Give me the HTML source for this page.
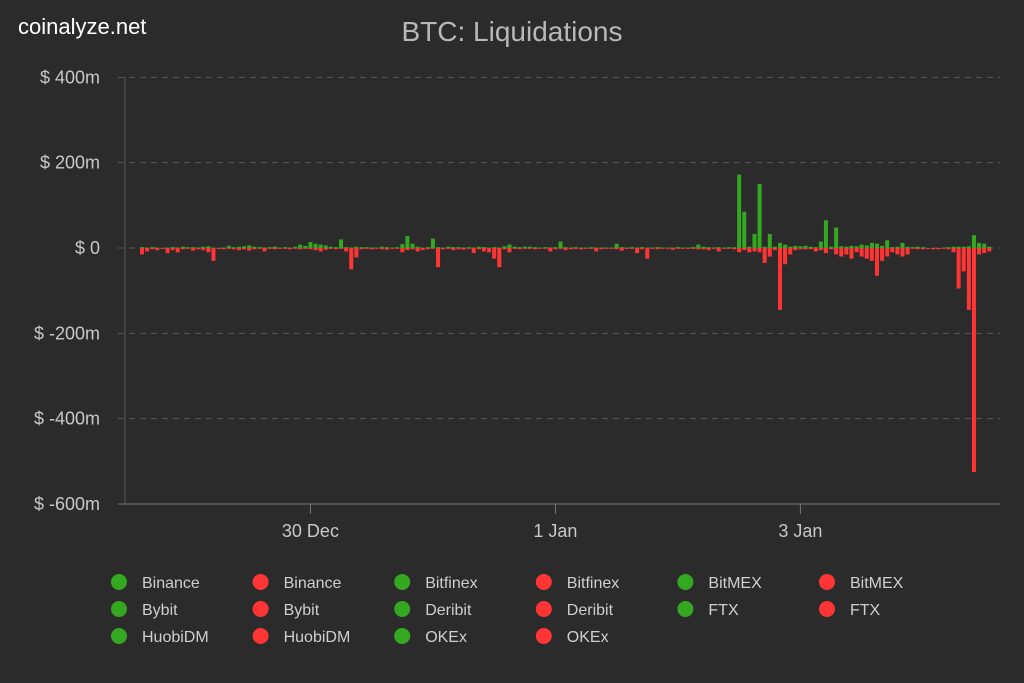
<!DOCTYPE html>
<html><head><meta charset="utf-8"><style>
body{margin:0;background:#2b2b2b;}
svg{display:block;font-family:"Liberation Sans",sans-serif;}
</style></head><body>
<svg id="chart" width="1024" height="683">
<rect width="1024" height="683" fill="#2b2b2b"/>
<text x="18" y="34" font-size="22" fill="#ffffff">coinalyze.net</text>
<text x="512" y="41" font-size="28" fill="#b8b8b8" text-anchor="middle">BTC: Liquidations</text>
<g id="grid"></g><g id="bars"></g><g id="axes"></g><g id="legend"></g>
</svg>
<script>
const yTicks=[400,200,0,-200,-400,-600];
const yTickLabels=["$ 400m","$ 200m","$ 0","$ -200m","$ -400m","$ -600m"];
const xTickHours=[33,81,129];
const xTickLabels=["30 Dec","1 Jan","3 Jan"];
const longs=[2,1,2,1,0,1,2,1,3,2, 2,1,3,4,1,0,1,5,2,3, 4,6,3,2,1,2,3,1,2,1, 3,8,5,14,10,8,6,3,2,20,
2,1,3,2,2,1,1,3,2,1, 2,9,28,10,3,1,2,22,2,1, 3,2,2,1,2,1,3,2,1,2, 1,4,8,3,2,3,3,2,1,2,
1,2,15,2,1,2,1,1,2,1, 1,1,1,10,2,1,2,1,2,1, 1,2,1,1,1,2,1,1,2,8, 3,2,1,2,1,2,2,172,85,3,
33,150,3,33,3,12,8,3,5,4, 5,3,2,15,65,3,48,4,3,5, 4,8,6,12,10,5,18,2,3,12, 3,2,3,2,0,0,0,1,2,3, 3,3,4,30,12,10,3];
const shorts=[-15,-8,-3,-5,-2,-12,-5,-10,-3,-2, -6,-3,-5,-10,-30,-2,-3,-2,-3,-5, -3,-6,-3,-2,-8,-2,-3,-2,-2,-3, -2,-3,-2,-3,-5,-8,-4,-2,-3,-2,
-8,-50,-22,-3,-2,-3,-2,-3,-4,-2, -2,-10,-5,-3,-8,-5,-3,-2,-45,-3, -2,-5,-3,-4,-2,-12,-3,-8,-10,-25, -45,-3,-10,-2,-3,-2,-2,-3,-2,-2,
-8,-3,-2,-5,-3,-2,-3,-2,-2,-8, -3,-2,-2,-3,-6,-2,-2,-12,-3,-25, -2,-3,-2,-2,-4,-2,-2,-2,-2,-3, -3,-5,-2,-8,-2,-2,-3,-10,-5,-10,
-8,-10,-35,-20,-5,-145,-38,-15,-5,-3, -3,-3,-8,-5,-12,-3,-15,-20,-15,-25, -10,-20,-25,-30,-65,-30,-20,-10,-15,-20, -15,-2,-3,-3,-2,-3,-3,-2,-3,-10,
-95,-55,-145,-525,-15,-12,-8];
const legendNames=["Binance","Binance","Bitfinex","Bitfinex","BitMEX","BitMEX","Bybit","Bybit","Deribit","Deribit","FTX","FTX","HuobiDM","HuobiDM","OKEx","OKEx"];

const NS="http://www.w3.org/2000/svg";
const G="#35a821",R="#ff3535";
const y=v=>248-v*(256/600);
const x=h=>142+h*5.104;
function mk(tag,parent,attrs){const e=document.createElementNS(NS,tag);for(const k in attrs)e.setAttribute(k,attrs[k]);document.getElementById(parent).appendChild(e);return e;}
yTicks.forEach((t,i)=>{
  if(t!==-600){const l=mk('line','grid',{x1:118,x2:1000,y1:y(t),y2:y(t),stroke:'#5a5a5a','stroke-dasharray':'6,5'});
  
  }
  const tx=mk('text','axes',{x:100,y:y(t)+6,'font-size':18,fill:'#c8c8c8','text-anchor':'end'});tx.textContent=yTickLabels[i];
  
  
});
const ya=mk('line','axes',{x1:125,x2:125,y1:77,y2:504,stroke:'#5a5a5a'});


const xa=mk('line','axes',{x1:118,x2:1000,y1:504,y2:504,stroke:'#777'});


xTickHours.forEach((h,i)=>{
  const tk=mk('line','axes',{x1:x(h),x2:x(h),y1:504,y2:514,stroke:'#777'});
  
  
  const tx=mk('text','axes',{x:x(h),y:537,'font-size':18,fill:'#c8c8c8','text-anchor':'middle'});tx.textContent=xTickLabels[i];
  
  
});
longs.forEach((v,i)=>{
  const b=mk('rect','bars',{x:x(i)-2,y:y(v),width:4,height:Math.max(0.8,y(0)-y(v)),fill:G});
  
  
});
shorts.forEach((v,i)=>{
  const b=mk('rect','bars',{x:x(i)-2,y:y(0),width:4,height:Math.max(0.8,y(v)-y(0)),fill:R});
  
  
});
legendNames.forEach((n,i)=>{
  const c=i%6,r=Math.floor(i/6);
  const lx=119+c*141.6,ly=582+r*27;
  const dot=mk('circle','legend',{cx:lx,cy:ly,r:8,fill:i%2?R:G});
  
  
  const t=mk('text','legend',{x:lx+23,y:ly+6,'font-size':16,fill:'#cfcfcf'});t.textContent=n;
  
  
});
</script>
</body></html>
